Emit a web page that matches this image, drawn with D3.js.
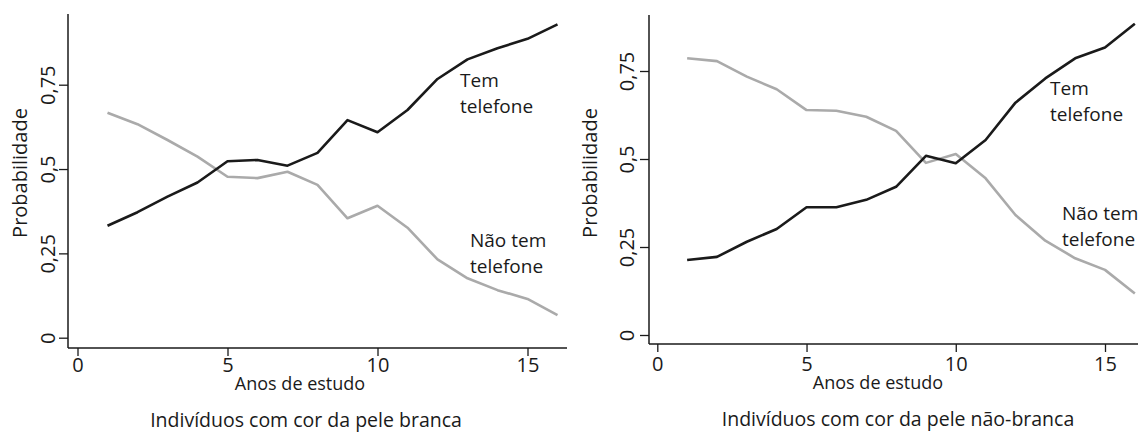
<!DOCTYPE html>
<html>
<head>
<meta charset="utf-8">
<script src="https://cdn.jsdelivr.net/npm/d3@7"></script>
<style>
body { margin: 0; background: #fff; }
text { font-family: "Open Sans", sans-serif; fill: #1a1a1a; }
</style>
</head>
<body>
<div id="chart"></div>
<script>
// data
var anos = [1, 2, 3, 4, 5, 6, 7, 8, 9, 10, 11, 12, 13, 14, 15, 16];
var brancaTem = [0.332, 0.372, 0.418, 0.460, 0.523, 0.527, 0.510, 0.548, 0.645, 0.609, 0.675, 0.767, 0.825, 0.858, 0.886, 0.929];
var brancaNao = [0.667, 0.633, 0.586, 0.537, 0.477, 0.473, 0.492, 0.453, 0.354, 0.391, 0.326, 0.232, 0.176, 0.141, 0.115, 0.067];
var naoBrancaTem = [0.213, 0.222, 0.265, 0.301, 0.363, 0.363, 0.384, 0.421, 0.509, 0.488, 0.554, 0.660, 0.729, 0.786, 0.817, 0.884];
var naoBrancaNao = [0.786, 0.778, 0.734, 0.698, 0.639, 0.637, 0.620, 0.580, 0.489, 0.514, 0.445, 0.341, 0.268, 0.218, 0.185, 0.118];
var yTicks = [0, 0.25, 0.5, 0.75];
var yTickLabels = ["0", "0,25", "0,5", "0,75"];
var xTicks = [0, 5, 10, 15];
var captions = ["Indivíduos com cor da pele branca", "Indivíduos com cor da pele não-branca"];

var svg = d3.select("#chart")
  .append("svg")
  .attr("width", 1140)
  .attr("height", 432);

// layout of each panel (pixels)
var panels = [
  {tem: brancaTem, nao: brancaNao, caption: captions[0],
   axisX: 68, axisY: 348, right: 567, top: 14,
   x0: 77.5, x15: 527.5, y0: 337.7, y75: 84.7,
   yLabX: 48, titleX: 20, xTitleX: 300, capX: 306,
   tickLabY: 372, xTitleY: 390, capY: 427,
   temX: 460, temY: 87, naoX: 470, naoY: 247},
  {tem: naoBrancaTem, nao: naoBrancaNao, caption: captions[1],
   axisX: 649, axisY: 344, right: 1138, top: 15,
   x0: 657.3, x15: 1105, y0: 335, y75: 71,
   yLabX: 627, titleX: 590, xTitleX: 878, capX: 898,
   tickLabY: 371, xTitleY: 389, capY: 426,
   temX: 1050, temY: 95, naoX: 1062, naoY: 220}
];

panels.forEach(function(p) {
  var x = d3.scaleLinear().domain([0, 15]).range([p.x0, p.x15]);
  var y = d3.scaleLinear().domain([0, 0.75]).range([p.y0, p.y75]);

  // axes lines
  svg.append("line")
    .attr("x1", p.axisX).attr("x2", p.axisX)
    .attr("y1", p.top).attr("y2", p.axisY)
    .attr("stroke", "#1a1a1a").attr("stroke-width", 1.5);
  svg.append("line")
    .attr("x1", p.axisX).attr("x2", p.right)
    .attr("y1", p.axisY).attr("y2", p.axisY)
    .attr("stroke", "#1a1a1a").attr("stroke-width", 1.5);

  // Y axis
  var gy = svg.append("g")
    .attr("transform", "translate(" + p.axisX + ",0)")
    .call(d3.axisLeft(y).tickValues(yTicks).tickSize(9).tickFormat(function(d, i) { return yTickLabels[i]; }));
  gy.select(".domain").remove();
  gy.selectAll(".tick line").attr("stroke", "#1a1a1a").attr("stroke-width", 1.3);
  gy.selectAll(".tick text")
    .attr("x", null).attr("dy", null)
    .attr("text-anchor", "middle")
    .attr("transform", "translate(" + (p.yLabX - p.axisX + 7) + ",0) rotate(-90)")
    .style("font-size", "20px")
    .style("font-family", "Open Sans, sans-serif")
    .attr("fill", "#1a1a1a");

  // X axis
  var gx = svg.append("g")
    .attr("transform", "translate(0," + p.axisY + ")")
    .call(d3.axisBottom(x).tickValues(xTicks).tickSize(8));
  gx.select(".domain").remove();
  gx.selectAll(".tick line").attr("stroke", "#1a1a1a").attr("stroke-width", 1.3);
  gx.selectAll(".tick text")
    .attr("y", p.tickLabY - p.axisY).attr("dy", null)
    .style("font-size", "20px")
    .style("font-family", "Open Sans, sans-serif")
    .attr("fill", "#1a1a1a");

  // titles
  svg.append("text")
    .attr("transform", "translate(" + (p.titleX + 7) + ",173) rotate(-90)")
    .attr("text-anchor", "middle")
    .style("font-size", "20px")
    .text("Probabilidade");
  svg.append("text")
    .attr("x", p.xTitleX).attr("y", p.xTitleY)
    .attr("text-anchor", "middle")
    .style("font-size", "18px")
    .text("Anos de estudo");
  svg.append("text")
    .attr("x", p.capX).attr("y", p.capY)
    .attr("text-anchor", "middle")
    .style("font-size", "19.5px")
    .text(p.caption);

  // lines
  var line = d3.line()
    .x(function(d, i) { return x(anos[i]); })
    .y(function(d) { return y(d); });
  svg.append("path").datum(p.nao)
    .attr("fill", "none").attr("stroke", "#aaaaaa").attr("stroke-width", 2.6)
    .attr("stroke-linejoin", "round")
    .attr("d", line);
  svg.append("path").datum(p.tem)
    .attr("fill", "none").attr("stroke", "#1a1a1a").attr("stroke-width", 2.6)
    .attr("stroke-linejoin", "round")
    .attr("d", line);

  // line labels
  var t1 = svg.append("text").attr("x", p.temX).attr("y", p.temY).style("font-size", "19px");
  t1.append("tspan").attr("x", p.temX).text("Tem");
  t1.append("tspan").attr("x", p.temX).attr("dy", 26).text("telefone");
  var t2 = svg.append("text").attr("x", p.naoX).attr("y", p.naoY).style("font-size", "19px");
  t2.append("tspan").attr("x", p.naoX).text("Não tem");
  t2.append("tspan").attr("x", p.naoX).attr("dy", 26).text("telefone");
});
</script>
</body>
</html>
